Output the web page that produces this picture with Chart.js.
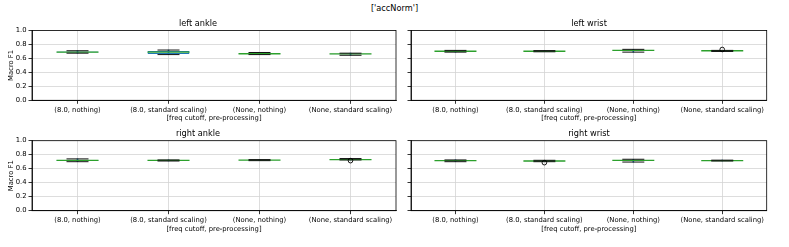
<!DOCTYPE html>
<html>
<head>
<meta charset="utf-8">
<script src="https://cdn.jsdelivr.net/npm/chart.js@4/dist/chart.umd.min.js"></script>
<style>
  body { margin: 0; background: #fff; }
  #wrap { position: relative; width: 789px; height: 247px; }
  canvas { position: absolute; left: 0; top: 0; }
  #sup { position: absolute; left: 0; width: 789px; top: 3px; text-align: center;
         font: 8.2px "DejaVu Sans"; color: #000; }
</style>
</head>
<body>
<div id="wrap">
  <div id="sup">['accNorm']</div>
  <canvas id="c0" width="789" height="247"></canvas>
  <canvas id="c1" width="789" height="247"></canvas>
  <canvas id="c2" width="789" height="247"></canvas>
  <canvas id="c3" width="789" height="247"></canvas>
</div>
<script>
// categories on the x axis
var categories = ['(8.0, nothing)', '(8.0, standard scaling)', '(None, nothing)', '(None, standard scaling)'];
var yTicks = [0.0, 0.2, 0.4, 0.6, 0.8, 1.0];

// each row: whisker low, q1, median, q3, whisker high
var leftAnkle = [
    [0.675, 0.685, 0.690, 0.700, 0.710],
    [0.655, 0.665, 0.690, 0.705, 0.720],
    [0.655, 0.663, 0.667, 0.672, 0.685],
    [0.645, 0.660, 0.664, 0.668, 0.675]
];
var leftWrist = [
    [0.690, 0.700, 0.703, 0.706, 0.715],
    [0.695, 0.700, 0.703, 0.706, 0.712],
    [0.690, 0.705, 0.715, 0.720, 0.730],
    [0.700, 0.705, 0.710, 0.712, 0.715]
];
var rightAnkle = [
    [0.700, 0.710, 0.720, 0.725, 0.740],
    [0.710, 0.715, 0.720, 0.722, 0.725],
    [0.715, 0.720, 0.722, 0.725, 0.730],
    [0.725, 0.728, 0.730, 0.735, 0.745]
];
var rightWrist = [
    [0.700, 0.710, 0.715, 0.720, 0.725],
    [0.700, 0.705, 0.710, 0.715, 0.720],
    [0.695, 0.710, 0.720, 0.725, 0.735],
    [0.710, 0.713, 0.716, 0.720, 0.722]
];

// outliers (null = none)
var leftAnkleFliers = [null, null, null, null];
var leftWristFliers = [null, null, null, 0.728];
var rightAnkleFliers = [null, null, null, 0.715];
var rightWristFliers = [null, 0.686, null, null];

Chart.defaults.font.family = 'DejaVu Sans';
Chart.defaults.color = '#000';

var frame = {
    id: 'frame',
    afterDraw: function (chart) {
        var a = chart.chartArea, ctx = chart.ctx;
        ctx.save();
        ctx.strokeStyle = '#000';
        ctx.lineWidth = 0.8;
        ctx.strokeRect(a.left, a.top, a.right - a.left, a.bottom - a.top);
        ctx.restore();
    }
};

function col(stats, k) {
    return stats.map(function (s) { return s[k]; });
}

function makePanel(id, title, stats, fliers, L, R, T, B, leftCol) {
    var yW = leftCol ? 32 : 8;
    var titleH = 8.2 * 1.2 + 2;
    new Chart(document.getElementById(id), {
        type: 'bar',
        data: {
            labels: categories,
            datasets: [
                {
                    type: 'scatter', data: fliers, pointStyle: 'circle', pointRadius: 2.3,
                    borderColor: '#000', backgroundColor: 'rgba(0,0,0,0)', borderWidth: 0.9, order: 0
                },
                {
                    type: 'scatter', data: col(stats, 0), pointStyle: 'line', pointRadius: 11,
                    borderColor: '#111', borderWidth: 1, order: 1
                },
                {
                    type: 'scatter', data: col(stats, 4), pointStyle: 'line', pointRadius: 11,
                    borderColor: '#111', borderWidth: 1, order: 1
                },
                {
                    type: 'scatter', data: col(stats, 2), pointStyle: 'line', pointRadius: 21,
                    borderColor: '#2ca02c', borderWidth: 1.3, order: 2
                },
                {
                    data: stats.map(function (s) { return [s[1], s[3]]; }),
                    backgroundColor: 'rgba(0,0,0,0)', borderColor: '#1f77b4', borderWidth: 1,
                    borderSkipped: false, barPercentage: 0.46, categoryPercentage: 1,
                    grouped: false, order: 3
                },
                {
                    data: stats.map(function (s) { return [s[0], s[4]]; }),
                    backgroundColor: '#1f77b4', barThickness: 1, grouped: false, order: 4
                }
            ]
        },
        options: {
            responsive: false,
            animation: false,
            devicePixelRatio: 1,
            layout: {
                padding: { left: L - yW, right: 789 - R, top: T - titleH, bottom: 247 - B - 30 }
            },
            plugins: {
                legend: { display: false },
                tooltip: { enabled: false },
                title: {
                    display: true, text: title, color: '#000',
                    font: { size: 8.2, weight: 'normal' }, padding: { top: 0, bottom: 2 }
                }
            },
            scales: {
                x: {
                    type: 'category', offset: true,
                    grid: { offset: false, color: '#d4d4d4', lineWidth: 0.8, tickColor: '#000', tickLength: 3.5 },
                    border: { color: '#000', width: 0.8 },
                    ticks: { font: { size: 6.8 }, color: '#000', padding: 2, maxRotation: 0, autoSkip: false },
                    title: {
                        display: true, text: '[freq cutoff, pre-processing]', color: '#000',
                        font: { size: 6.8 }, padding: { top: 0, bottom: 7.5 }
                    },
                    afterFit: function (s) { s.height = 30; }
                },
                y: {
                    min: 0, max: 1,
                    afterBuildTicks: function (s) { s.ticks = yTicks.map(function (v) { return { value: v }; }); },
                    grid: { color: '#d4d4d4', lineWidth: 0.8, tickColor: '#000', tickLength: 3.5 },
                    border: { color: '#000', width: 0.8 },
                    ticks: {
                        display: leftCol, font: { size: 6.8 }, color: '#000', padding: 2,
                        callback: function (v) { return v.toFixed(1); }
                    },
                    title: {
                        display: leftCol, text: 'Macro F1', color: '#000',
                        font: { size: 6.8 }, padding: { top: 7, bottom: 0 }
                    },
                    afterFit: function (s) { s.width = yW; }
                }
            }
        },
        plugins: [frame]
    });
}

makePanel('c0', 'left ankle', leftAnkle, leftAnkleFliers, 32, 396, 30.5, 100.3, true);
makePanel('c1', 'left wrist', leftWrist, leftWristFliers, 411, 775, 30.5, 100.3, false);
makePanel('c2', 'right ankle', rightAnkle, rightAnkleFliers, 32, 396, 140.7, 210.7, true);
makePanel('c3', 'right wrist', rightWrist, rightWristFliers, 411, 775, 140.7, 210.7, false);
</script>
</body>
</html>
